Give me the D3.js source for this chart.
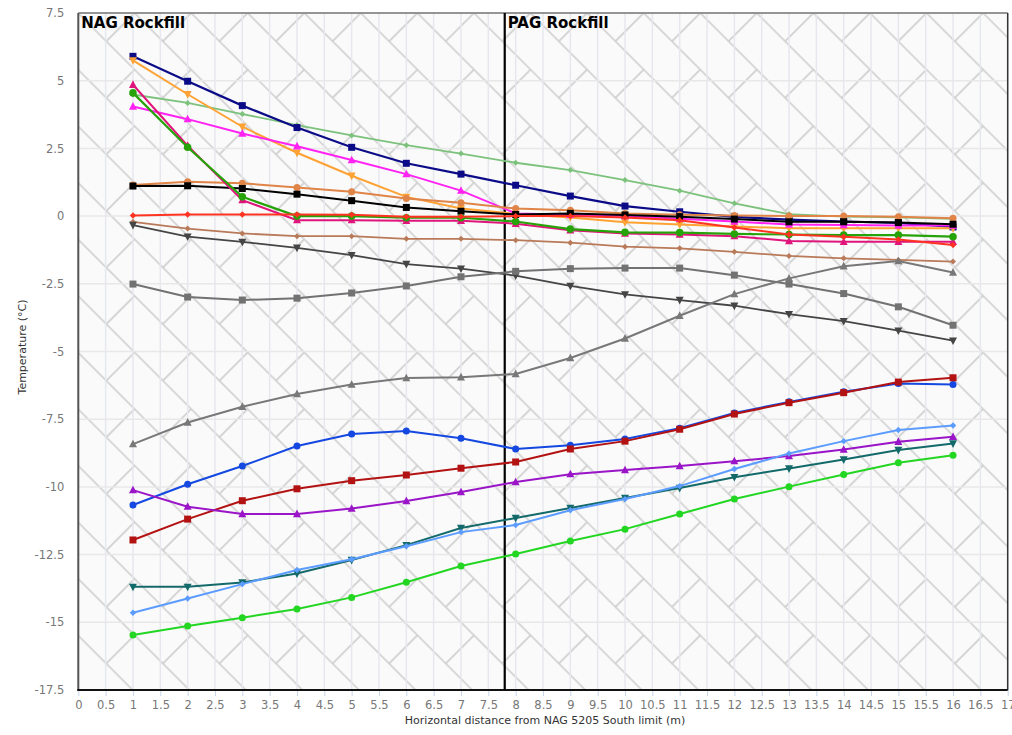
<!DOCTYPE html>
<html><head><meta charset="utf-8">
<script src="https://cdn.jsdelivr.net/npm/d3@7"></script>
<style>body{margin:0;background:#fff;font-family:"DejaVu Sans",Verdana,sans-serif}</style>
</head><body><svg id="c" width="1012" height="735"></svg>
<script>
const xs = [1,2,3,4,5,6,7,8,9,10,11,12,13,14,15,16];
const xTicks = d3.range(0, 17.01, 0.5);
const yTicks = [7.5,5,2.5,0,-2.5,-5,-7.5,-10,-12.5,-15,-17.5];
const zoneLabels = ["NAG Rockfill", "PAG Rockfill"];
const zoneBoundary = 7.8;

const sBrown      = [-0.21,-0.46,-0.64,-0.74,-0.74,-0.84,-0.84,-0.89,-0.98,-1.13,-1.19,-1.32,-1.47,-1.56,-1.62,-1.68];
const sDarkGrey   = [-0.33,-0.76,-0.95,-1.17,-1.44,-1.77,-1.94,-2.2,-2.58,-2.89,-3.1,-3.31,-3.62,-3.88,-4.23,-4.6];
const sGreySq     = [-2.51,-2.99,-3.1,-3.03,-2.84,-2.58,-2.24,-2.04,-1.94,-1.92,-1.92,-2.18,-2.51,-2.86,-3.35,-4.03];
const sGreyTri    = [-8.42,-7.62,-7.04,-6.57,-6.22,-5.98,-5.95,-5.83,-5.24,-4.52,-3.68,-2.88,-2.3,-1.85,-1.66,-2.08];
const sLightGreen = [4.49,4.18,3.77,3.36,2.98,2.62,2.31,1.97,1.7,1.33,0.94,0.47,0.07,-0.02,-0.05,-0.1];
const sNavy       = [5.9,4.98,4.08,3.27,2.54,1.95,1.55,1.14,0.74,0.37,0.16,-0.03,-0.13,-0.2,-0.25,-0.4];
const sOrange     = [5.75,4.5,3.3,2.34,1.49,0.71,0.28,0.08,-0.05,-0.23,-0.31,-0.38,-0.45,-0.45,-0.45,-0.45];
const sMagenta    = [4.05,3.58,3.05,2.58,2.07,1.55,0.94,0.1,0.05,0.0,-0.1,-0.2,-0.31,-0.33,-0.35,-0.35];
const sOrangeBrown= [1.15,1.27,1.21,1.06,0.9,0.65,0.49,0.28,0.22,0.1,0.05,0.02,0.0,0.0,-0.02,-0.08];
const sBlack      = [1.11,1.12,1.02,0.81,0.57,0.32,0.18,0.06,0.1,0.04,-0.02,-0.11,-0.21,-0.21,-0.24,-0.3];
const sCrimson    = [4.85,2.6,0.59,-0.15,-0.15,-0.17,-0.17,-0.28,-0.52,-0.64,-0.68,-0.74,-0.92,-0.95,-0.95,-0.95];
const sGreen      = [4.55,2.54,0.71,0.0,0.0,-0.06,-0.06,-0.2,-0.48,-0.6,-0.61,-0.66,-0.68,-0.7,-0.7,-0.76];
const sRed        = [0.02,0.06,0.06,0.06,0.05,-0.02,-0.02,0.0,0.0,-0.05,-0.15,-0.42,-0.68,-0.76,-0.86,-1.07];
const sBlue       = [-10.67,-9.9,-9.23,-8.49,-8.05,-7.94,-8.2,-8.6,-8.46,-8.23,-7.83,-7.27,-6.86,-6.49,-6.18,-6.22];
const sDarkRed    = [-11.96,-11.19,-10.51,-10.07,-9.77,-9.56,-9.31,-9.08,-8.6,-8.31,-7.87,-7.31,-6.89,-6.52,-6.13,-5.97];
const sPurple     = [-10.12,-10.73,-11.0,-11.0,-10.8,-10.52,-10.19,-9.82,-9.53,-9.38,-9.23,-9.05,-8.86,-8.62,-8.33,-8.15];
const sTeal       = [-13.69,-13.69,-13.53,-13.2,-12.7,-12.15,-11.52,-11.15,-10.78,-10.41,-10.04,-9.64,-9.32,-8.99,-8.64,-8.4];
const sLightBlue  = [-14.65,-14.12,-13.59,-13.07,-12.67,-12.19,-11.67,-11.41,-10.86,-10.45,-9.97,-9.34,-8.77,-8.31,-7.9,-7.73];
const sBrightGreen= [-15.47,-15.14,-14.83,-14.51,-14.08,-13.52,-12.92,-12.48,-12.0,-11.56,-11.0,-10.45,-9.99,-9.54,-9.11,-8.83];

const series = [
  {v:sBrown, c:"#b97a5a", m:"diamond", s:3, w:1.8},
  {v:sDarkGrey, c:"#454545", m:"tridown", s:4, w:1.8},
  {v:sGreySq, c:"#727272", m:"square", s:3.5, w:2},
  {v:sGreyTri, c:"#787878", m:"triup", s:4, w:2},
  {v:sLightGreen, c:"#7cc27c", m:"diamond", s:3, w:1.8},
  {v:sNavy, c:"#0b0b88", m:"square", s:3.5, w:2.2},
  {v:sOrange, c:"#ffa234", m:"tridown", s:4, w:2},
  {v:sMagenta, c:"#ff22f2", m:"triup", s:4, w:2},
  {v:sOrangeBrown, c:"#e08448", m:"circle", s:3.5, w:2},
  {v:sBlack, c:"#000000", m:"square", s:3.5, w:2},
  {v:sCrimson, c:"#e0157c", m:"triup", s:4, w:2},
  {v:sGreen, c:"#27a30a", m:"circle", s:3.8, w:2.2},
  {v:sRed, c:"#ff3322", m:"diamond", s:3.2, w:2},
  {v:sBlue, c:"#1448e0", m:"circle", s:3.5, w:2},
  {v:sDarkRed, c:"#b31212", m:"square", s:3.5, w:2},
  {v:sPurple, c:"#9a14c8", m:"triup", s:4, w:2},
  {v:sTeal, c:"#146a6a", m:"tridown", s:4, w:2},
  {v:sLightBlue, c:"#5c9cff", m:"diamond", s:3.2, w:2},
  {v:sBrightGreen, c:"#22d622", m:"circle", s:3.5, w:2}
];

const L = 78.3, R = 1007.7, T = 13, B = 690;
const x = d3.scaleLinear().domain([0,17]).range([L,R]);
const y = d3.scaleLinear().domain([-17.5,7.5]).range([B,T]);
const svg = d3.select("#c");

// background pattern (diagonal brick)
const defs = svg.append("defs");
const W = 80, H = 40;
const pat = defs.append("pattern").attr("id","brick").attr("patternUnits","userSpaceOnUse")
  .attr("width",W).attr("height",2*H).attr("patternTransform","translate(78,13) rotate(45)");
pat.append("rect").attr("width",W).attr("height",2*H).attr("fill","#fafafa");
const pp = pat.append("g").attr("stroke","#cdcdcd").attr("stroke-width",1.6).attr("fill","none");
pp.append("path").attr("d",`M0,0H${W}M0,${H}H${W}M0,${2*H}H${W}M0,0V${H}M${W},0V${H}M${W/2},${H}V${2*H}`);

svg.append("rect").attr("x",L).attr("y",T).attr("width",R-L).attr("height",B-T).attr("fill","url(#brick)");

// grid
const g = svg.append("g");
g.selectAll(".vg").data(xTicks).join("line").attr("x1",d=>x(d)).attr("x2",d=>x(d))
  .attr("y1",T).attr("y2",B).attr("stroke","#e6e8ee").attr("stroke-width",1.5);
g.selectAll(".hg").data(yTicks).join("line").attr("y1",d=>y(d)).attr("y2",d=>y(d))
  .attr("x1",L).attr("x2",R).attr("stroke","#e8e8e8").attr("stroke-width",1.5);

// axes
const xAxis = d3.axisBottom(x).tickValues(xTicks).tickSize(6).tickPadding(5).tickFormat(d=>String(d));
const ax = svg.append("g").attr("transform",`translate(0,${B})`).call(xAxis);
ax.select(".domain").remove();
ax.selectAll("line").attr("stroke","#c8d4ea");
ax.selectAll("text").attr("fill","#777").style("font-size","11.5px").style("font-family","'DejaVu Sans',Verdana,sans-serif");

const yAxis = d3.axisLeft(y).tickValues(yTicks).tickSize(0).tickPadding(14).tickFormat(d=>String(d));
const ay = svg.append("g").attr("transform",`translate(${L},0)`).call(yAxis);
ay.select(".domain").remove();
ay.selectAll("text").attr("fill","#777").style("font-size","11.5px").style("font-family","'DejaVu Sans',Verdana,sans-serif");

// borders
svg.append("line").attr("x1",L).attr("x2",R).attr("y1",T).attr("y2",T).attr("stroke","#777").attr("stroke-width",1.5);
svg.append("line").attr("x1",R).attr("x2",R).attr("y1",T).attr("y2",B).attr("stroke","#333").attr("stroke-width",1.5);
svg.append("line").attr("x1",L).attr("x2",L).attr("y1",T).attr("y2",B+1).attr("stroke","#555").attr("stroke-width",2);
svg.append("line").attr("x1",L-1).attr("x2",R).attr("y1",B).attr("y2",B).attr("stroke","#111").attr("stroke-width",2);

// zone boundary
svg.append("line").attr("x1",x(zoneBoundary)).attr("x2",x(zoneBoundary)).attr("y1",T).attr("y2",B)
  .attr("stroke","#000").attr("stroke-width",2.2);
svg.append("text").attr("x",L+3).attr("y",T+15).text(zoneLabels[0])
  .style("font-size","15px").style("font-weight","bold").attr("fill","#000");
svg.append("text").attr("x",x(zoneBoundary)+3).attr("y",T+15).text(zoneLabels[1])
  .style("font-size","15px").style("font-weight","bold").attr("fill","#000");

// titles
svg.append("text").attr("x",545).attr("y",724).attr("text-anchor","middle")
  .text("Horizontal distance from NAG 5205 South limit (m)").style("font-size","11px").attr("fill","#333");
svg.append("text").attr("transform",`translate(26,347) rotate(-90)`).attr("text-anchor","middle")
  .text("Temperature (°C)").style("font-size","11px").attr("fill","#333");

// series
const line = d3.line().x((d,i)=>x(xs[i])).y(d=>y(d));
function marker(sel, m, s){
  if(m==="circle") return sel.append("circle").attr("r",s);
  let d;
  if(m==="square") d=`M${-s},${-s}H${s}V${s}H${-s}Z`;
  else if(m==="diamond") d=`M0,${-s}L${s},0L0,${s}L${-s},0Z`;
  else if(m==="triup") d=`M0,${-s*1.1}L${s},${s*0.8}L${-s},${s*0.8}Z`;
  else d=`M0,${s*1.1}L${s},${-s*0.8}L${-s},${-s*0.8}Z`;
  return sel.append("path").attr("d",d);
}
const sg = svg.append("g");
series.forEach(se=>{
  const gg = sg.append("g");
  gg.append("path").attr("d",line(se.v)).attr("fill","none").attr("stroke",se.c).attr("stroke-width",se.w);
  se.v.forEach((v,i)=>{
    const mk = gg.append("g").attr("transform",`translate(${x(xs[i])},${y(v)})`);
    marker(mk, se.m, se.s).attr("fill",se.c);
  });
});
</script></body></html>
